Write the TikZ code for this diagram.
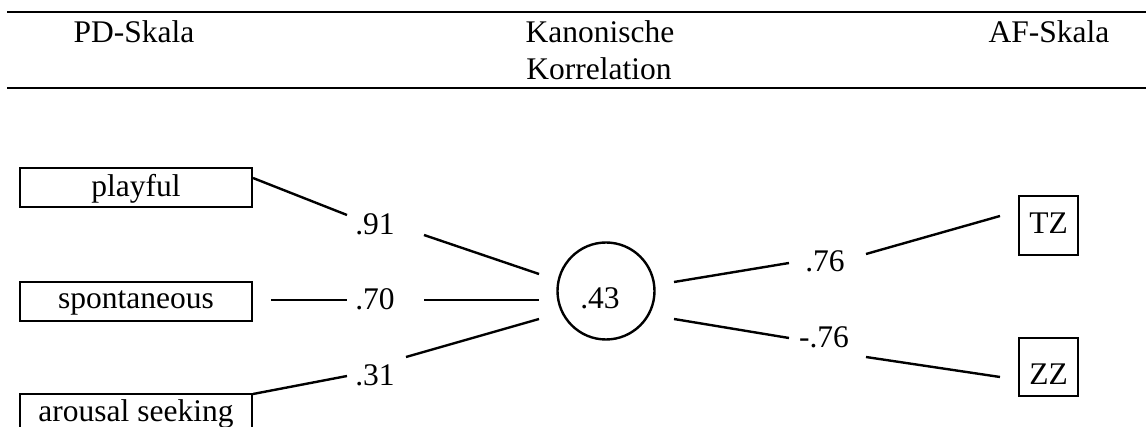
\documentclass[tikz,border=0pt]{standalone}
\usepackage{fontspec}
\setmainfont{Liberation Serif}
\begin{document}
\begin{tikzpicture}[x=1pt,y=-1pt,
  txt/.style={font=\fontsize{31.5}{30}\selectfont, inner sep=0pt, anchor=base},
  lbox/.style={draw, txt, line width=2.4pt, minimum width=232pt},
  sbox/.style={draw, txt, line width=2.4pt, minimum width=59pt},
  conn/.style={line width=2.4pt},
  rulestyle/.style={line width=2.8pt}]
\useasboundingbox (0,0) rectangle (1146,427);
\clip (0,0) rectangle (1146,427);
% header rules
\draw[rulestyle] (7,12) -- (1146,12);
\draw[rulestyle] (7,88) -- (1146,88);
% header texts
\node[txt] (hpd) at (134,43) {PD-Skala};
\node[txt] (hk1) at (600,43) {Kanonische};
\node[txt] (hk2) at (599,80) {Korrelation};
\node[txt] (haf) at (1049,43) {AF-Skala};
% left boxes
\node[lbox, text height=29pt, text depth=10pt] (p) at (136,197) {playful};
\node[lbox, text height=27pt, text depth=12pt] (s) at (136,309) {spontaneous};
\node[lbox, text height=27pt, text depth=12pt] (a) at (136,421) {arousal seeking};
% right boxes
\node[sbox, text height=38pt, text depth=21pt] (tz) at (1048.5,234) {TZ};
\node[sbox, text height=47pt, text depth=11pt] (zz) at (1048.5,385) {ZZ};
% circle
\node[draw, circle, line width=2.4pt, minimum size=97pt, inner sep=0pt] (c) at (606,291) {};
\node[txt] (ct) at (600,309) {.43};
% coefficient labels
\node[txt] (l91) at (375,235) {.91};
\node[txt] (l70) at (375,310) {.70};
\node[txt] (l31) at (375,386) {.31};
\node[txt] (l76) at (825,272) {.76};
\node[txt] (lm76) at (824,348) {-.76};
% connector end points
\coordinate (p-o) at (253,178);
\coordinate (l91-i) at (347,215);
\coordinate (l91-o) at (424,235);
\coordinate (c-p) at (539,274);
\coordinate (s-o) at (271,300);
\coordinate (l70-i) at (347,300);
\coordinate (l70-o) at (424,300);
\coordinate (c-s) at (539,300);
\coordinate (a-o) at (253,394);
\coordinate (l31-i) at (347,376);
\coordinate (l31-o) at (406,357);
\coordinate (c-a) at (539,319);
\coordinate (c-t) at (674,282);
\coordinate (l76-i) at (789,263);
\coordinate (l76-o) at (866,254);
\coordinate (tz-i) at (1000,216);
\coordinate (c-z) at (674,319);
\coordinate (lm76-i) at (789,338);
\coordinate (lm76-o) at (866,357);
\coordinate (zz-i) at (1000,377);
% connectors
\draw[conn] (p-o) -- (l91-i);
\draw[conn] (l91-o) -- (c-p);
\draw[conn] (s-o) -- (l70-i);
\draw[conn] (l70-o) -- (c-s);
\draw[conn] (a-o) -- (l31-i);
\draw[conn] (l31-o) -- (c-a);
\draw[conn] (c-t) -- (l76-i);
\draw[conn] (l76-o) -- (tz-i);
\draw[conn] (c-z) -- (lm76-i);
\draw[conn] (lm76-o) -- (zz-i);
\end{tikzpicture}
\end{document}
